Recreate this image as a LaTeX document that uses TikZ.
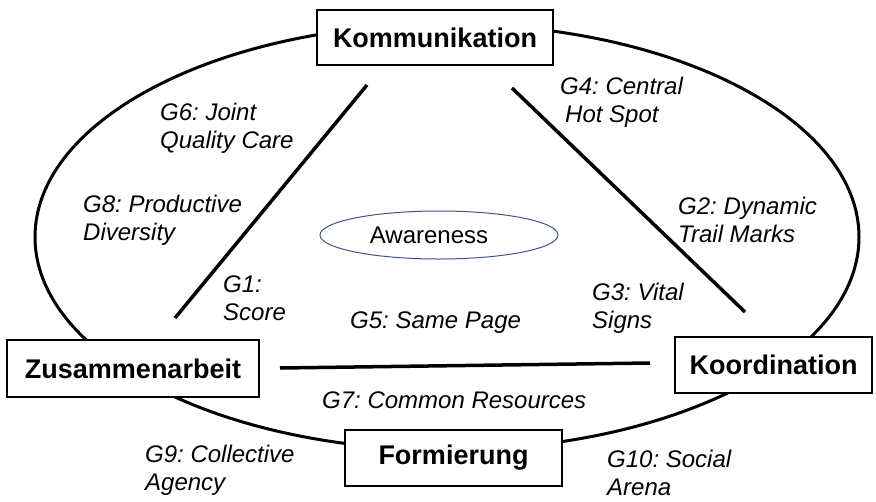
\documentclass[tikz,border=0pt]{standalone}
\usepackage{fontspec}
\setmainfont{Liberation Sans}
\usepackage{tikz}
\usetikzlibrary{arrows.meta,calc,shapes.geometric}
\definecolor{awblue}{RGB}{63,86,140}
\frenchspacing

\begin{document}
\begin{tikzpicture}[x=1pt,y=-1pt,
  box/.style={draw,line width=2.5pt,fill=white,inner sep=0pt,font=\fontsize{27}{31}\selectfont\bfseries},
  glabel/.style={anchor=base west,inner sep=0pt,align=left,font=\fontsize{24}{28}\selectfont\itshape}]
\useasboundingbox(0,0)rectangle(876,501);
\draw[line width=3pt](447,237)ellipse[x radius=412,y radius=213];
\node[draw=awblue,line width=1pt,ellipse,minimum width=238,minimum height=48,inner sep=0pt,font=\fontsize{24}{28}\selectfont](aw)at(439,235){Awareness\hspace*{20pt}};
\node[box,minimum width=236,minimum height=55](komm)at(435,37.5){Kommunikation};
\node[box,minimum width=252,minimum height=57](zus)at(133,368.5){Zusammenarbeit};
\node[box,minimum width=197,minimum height=56](koord)at(773.5,365){Koordination};
\node[box,minimum width=217,minimum height=56](form)at(453.5,458){Formierung};
\coordinate(l1)at(367,85);\coordinate(l2)at(175,318);
\coordinate(r1)at(512,88);\coordinate(r2)at(745,312);
\coordinate(h1)at(280,368);\coordinate(h2)at(650,363);
\draw[line width=3.5pt](l1)--(l2);\draw[line width=3.5pt](r1)--(r2);\draw[line width=3.5pt](h1)--(h2);
% two-line labels: base is the last line
\node[glabel](g6)at(160,148){G6: Joint\\Quality Care};
\node[glabel](g8)at(83,240){G8: Productive\\Diversity};
\node[glabel](g1)at(223,320){G1:\\Score};
\node[glabel](g5)at(350,328){G5: Same Page};
\node[glabel](g4)at(560,122){G4: Central\\\hspace*{5pt}Hot Spot};
\node[glabel](g2)at(678,242){G2: Dynamic\\Trail Marks};
\node[glabel](g3)at(592,328){G3: Vital\\Signs};
\node[glabel](g7)at(322,408){G7: Common Resources};
\node[glabel](g9)at(145,490){G9: Collective\\Agency};
\node[glabel](g10)at(607,495){G10: Social\\Arena};
\end{tikzpicture}
\end{document}
